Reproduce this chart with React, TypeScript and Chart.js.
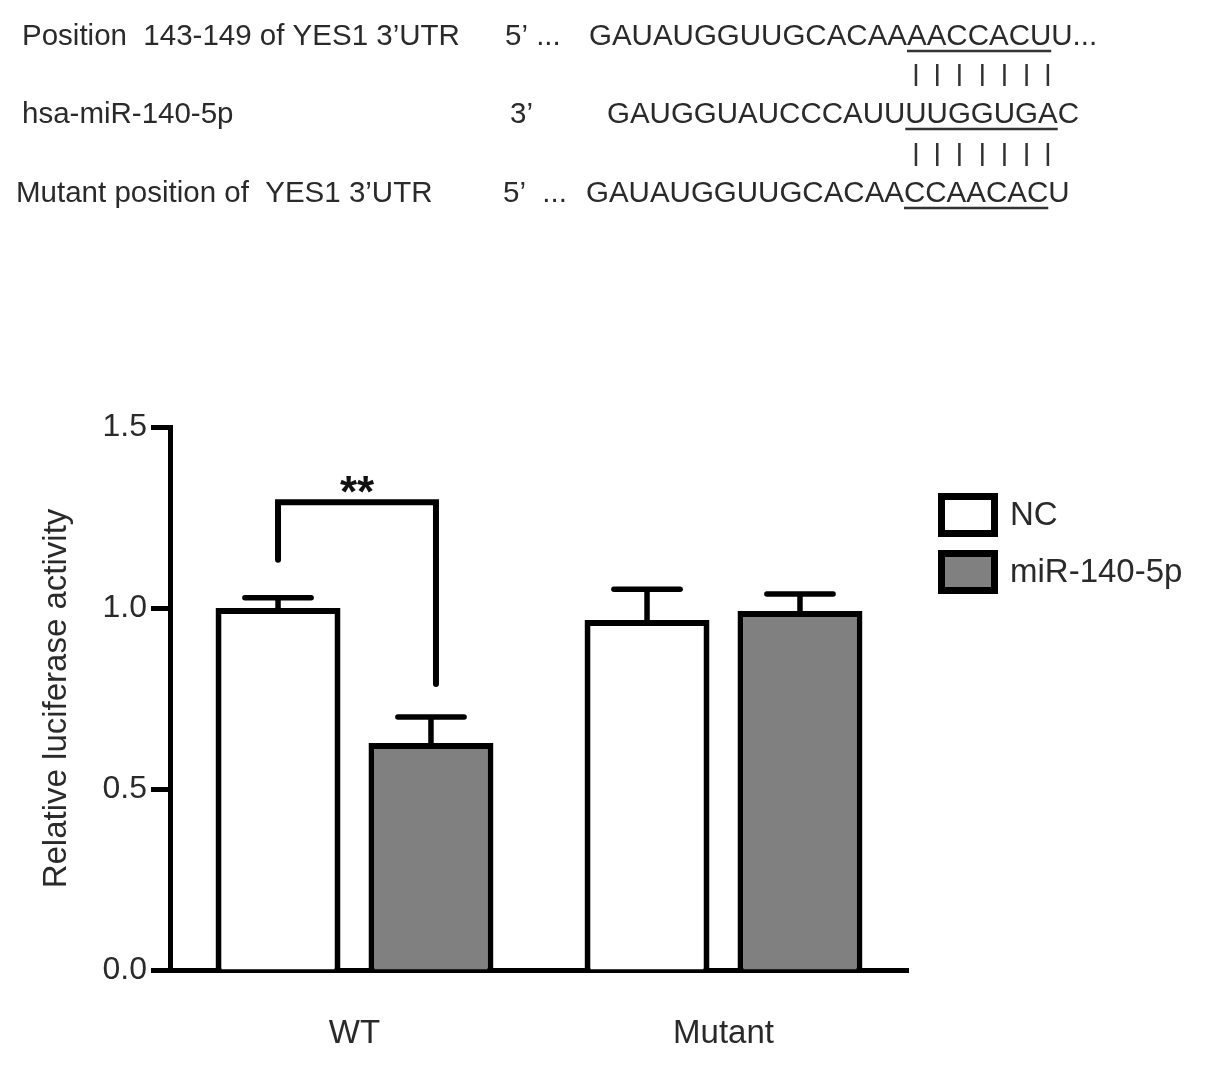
import React, { useEffect, useRef } from 'react';
import { Chart, registerables } from 'chart.js';

Chart.register(...registerables);

// ---------------- data ----------------
const categories = ['WT', 'Mutant'];
const seriesLabels = ['NC', 'miR-140-5p'];
const ncValues = [1.0, 0.967];
const ncErrors = [0.028, 0.085];
const mirValues = [0.627, 0.992];
const mirErrors = [0.072, 0.047];
const yAxisTitle = 'Relative luciferase activity';
const significanceLabel = '**';
// bracket: left leg end, bracket top, right leg end (in y units)
const bracketLevels = [1.133, 1.292, 0.79];

const rowLabels = ['Position  143-149 of YES1 3\u2019UTR', 'hsa-miR-140-5p', 'Mutant position of  YES1 3\u2019UTR'];
const rowPrimes = ['5\u2019 ...', '3\u2019', '5\u2019  ...'];
const rowSequences = ['GAUAUGGUUGCACAAAACCACUU...', 'GAUGGUAUCCCAUUUUGGUGAC', 'GAUAUGGUUGCACAACCAACACU'];
const seedStarts = [15, 14, 15];
const seedLength = 7;

// ---------------- styling ----------------
const FONT = '"Liberation Sans", Arial, Helvetica, sans-serif';
const TEXT = '#2a2a2a';
const GRAY = '#808080';

const rowBaselines = [45, 123, 202];
const rowLabelX = [22, 22, 16];
const rowPrimeX = [505, 510, 503];
const rowSeqX = [589, 607, 586];
const pairBands = [[64, 86], [143, 166]];

const sequencePlugin = {
  id: 'sequencePlugin',
  afterDraw(chart: any) {
    const ctx = chart.ctx as CanvasRenderingContext2D;
    ctx.save();
    ctx.font = `29.5px ${FONT}`;
    ctx.fillStyle = TEXT;
    ctx.strokeStyle = '#333';
    ctx.textBaseline = 'alphabetic';
    ctx.textAlign = 'left';
    rowLabels.forEach((lab, i) => {
      const by = rowBaselines[i];
      ctx.fillText(lab, rowLabelX[i], by);
      ctx.fillText(rowPrimes[i], rowPrimeX[i], by);
      const seq = rowSequences[i];
      ctx.fillText(seq, rowSeqX[i], by);
      const x0 = rowSeqX[i] + ctx.measureText(seq.slice(0, seedStarts[i])).width;
      const x1 = rowSeqX[i] + ctx.measureText(seq.slice(0, seedStarts[i] + seedLength)).width;
      ctx.lineWidth = 2.5;
      ctx.beginPath();
      ctx.moveTo(x0, by + 6);
      ctx.lineTo(x1, by + 6);
      ctx.stroke();
    });
    // pairing bars aligned to the miRNA seed characters
    const seq2 = rowSequences[1];
    ctx.lineWidth = 2.5;
    for (let k = 0; k < seedLength; k++) {
      const idx = seedStarts[1] + k;
      const a = ctx.measureText(seq2.slice(0, idx)).width;
      const b = ctx.measureText(seq2.slice(0, idx + 1)).width;
      const cx = rowSeqX[1] + (a + b) / 2;
      pairBands.forEach(([y0, y1]) => {
        ctx.beginPath();
        ctx.moveTo(cx, y0);
        ctx.lineTo(cx, y1);
        ctx.stroke();
      });
    }
    ctx.restore();
  },
};

const errorBarPlugin = {
  id: 'errorBarPlugin',
  afterDatasetsDraw(chart: any) {
    const ctx = chart.ctx as CanvasRenderingContext2D;
    const yScale = chart.scales.y;
    const errs = [ncErrors, mirErrors];
    ctx.save();
    ctx.strokeStyle = '#000';
    ctx.lineWidth = 5.5;
    chart.data.datasets.forEach((ds: any, i: number) => {
      const meta = chart.getDatasetMeta(i);
      meta.data.forEach((bar: any, j: number) => {
        const v = ds.data[j];
        const yTop = yScale.getPixelForValue(v);
        const yErr = yScale.getPixelForValue(v + errs[i][j]);
        const capW = bar.width * 0.53;
        ctx.lineCap = 'butt';
        ctx.beginPath();
        ctx.moveTo(bar.x, yTop + 2);
        ctx.lineTo(bar.x, yErr);
        ctx.stroke();
        ctx.lineCap = 'round';
        ctx.beginPath();
        ctx.moveTo(bar.x - capW / 2, yErr);
        ctx.lineTo(bar.x + capW / 2, yErr);
        ctx.stroke();
      });
    });
    // significance bracket between WT bars
    const lx = chart.getDatasetMeta(0).data[0].x;
    const rx = chart.getDatasetMeta(1).data[0].x + 5;
    const yl = yScale.getPixelForValue(bracketLevels[0]);
    const yt = yScale.getPixelForValue(bracketLevels[1]);
    const yr = yScale.getPixelForValue(bracketLevels[2]);
    ctx.lineWidth = 6;
    ctx.lineCap = 'round';
    ctx.lineJoin = 'miter';
    ctx.beginPath();
    ctx.moveTo(lx, yl);
    ctx.lineTo(lx, yt);
    ctx.lineTo(rx, yt);
    ctx.lineTo(rx, yr);
    ctx.stroke();
    ctx.fillStyle = '#111';
    ctx.font = `bold 44px ${FONT}`;
    ctx.textAlign = 'center';
    ctx.textBaseline = 'alphabetic';
    ctx.fillText(significanceLabel, (lx + rx) / 2, yt + 5);
    ctx.restore();
  },
};

const legendPlugin = {
  id: 'customLegend',
  afterDraw(chart: any) {
    const ctx = chart.ctx as CanvasRenderingContext2D;
    const boxX = 938, boxW = 60, boxH = 44, lw = 7;
    const boxYs = [493, 550];
    ctx.save();
    chart.data.datasets.forEach((ds: any, i: number) => {
      const y = boxYs[i];
      ctx.fillStyle = ds.backgroundColor;
      ctx.fillRect(boxX + lw / 2, y + lw / 2, boxW - lw, boxH - lw);
      ctx.strokeStyle = '#000';
      ctx.lineWidth = lw;
      ctx.strokeRect(boxX + lw / 2, y + lw / 2, boxW - lw, boxH - lw);
      ctx.fillStyle = TEXT;
      ctx.font = `33px ${FONT}`;
      ctx.textAlign = 'left';
      ctx.textBaseline = 'middle';
      ctx.fillText(ds.label, 1010, y + boxH / 2 + 1);
    });
    ctx.restore();
  },
};

export default function App() {
  const ref = useRef<HTMLCanvasElement>(null);
  useEffect(() => {
    if (!ref.current) return;
    const chart = new Chart(ref.current, {
      type: 'bar',
      data: {
        labels: categories,
        datasets: [
          {
            label: seriesLabels[0],
            data: ncValues,
            backgroundColor: '#ffffff',
            borderColor: '#000000',
            borderWidth: 6,
            borderSkipped: 'start',
            categoryPercentage: 0.829,
            barPercentage: 0.817,
          },
          {
            label: seriesLabels[1],
            data: mirValues,
            backgroundColor: GRAY,
            borderColor: '#000000',
            borderWidth: 6,
            borderSkipped: 'start',
            categoryPercentage: 0.829,
            barPercentage: 0.817,
          },
        ],
      },
      options: {
        responsive: false,
        animation: false,
        devicePixelRatio: 1,
        layout: { padding: { top: 427, right: 297, bottom: 0, left: 0 } },
        plugins: {
          legend: { display: false },
          tooltip: { enabled: false },
        },
        scales: {
          x: {
            grid: { display: false },
            border: { display: true, color: '#000', width: 5 },
            ticks: { font: { size: 33, family: FONT }, color: TEXT, padding: 36 },
            afterFit: (s: any) => { s.height = 97; },
          },
          y: {
            min: 0,
            max: 1.5,
            grid: { display: true, drawOnChartArea: false, drawTicks: true, tickLength: 19, tickWidth: 5, tickColor: '#000' },
            border: { display: true, color: '#000', width: 5 },
            ticks: {
              stepSize: 0.5,
              font: { size: 32, family: FONT },
              color: TEXT,
              padding: 4,
              callback: (v: any) => Number(v).toFixed(1),
            },
            title: {
              display: true,
              text: yAxisTitle,
              font: { size: 33, family: FONT },
              color: TEXT,
              padding: { top: 37, bottom: 0 },
            },
            afterFit: (s: any) => { s.width = 170; },
          },
        },
      },
      plugins: [sequencePlugin, errorBarPlugin, legendPlugin],
    } as any);
    return () => chart.destroy();
  }, []);
  return (
    <div style={{ position: 'absolute', left: 0, top: 0, width: 1205, height: 1067, background: '#fff' }}>
      <canvas ref={ref} width={1205} height={1067} style={{ width: 1205, height: 1067, display: 'block' }} />
    </div>
  );
}
